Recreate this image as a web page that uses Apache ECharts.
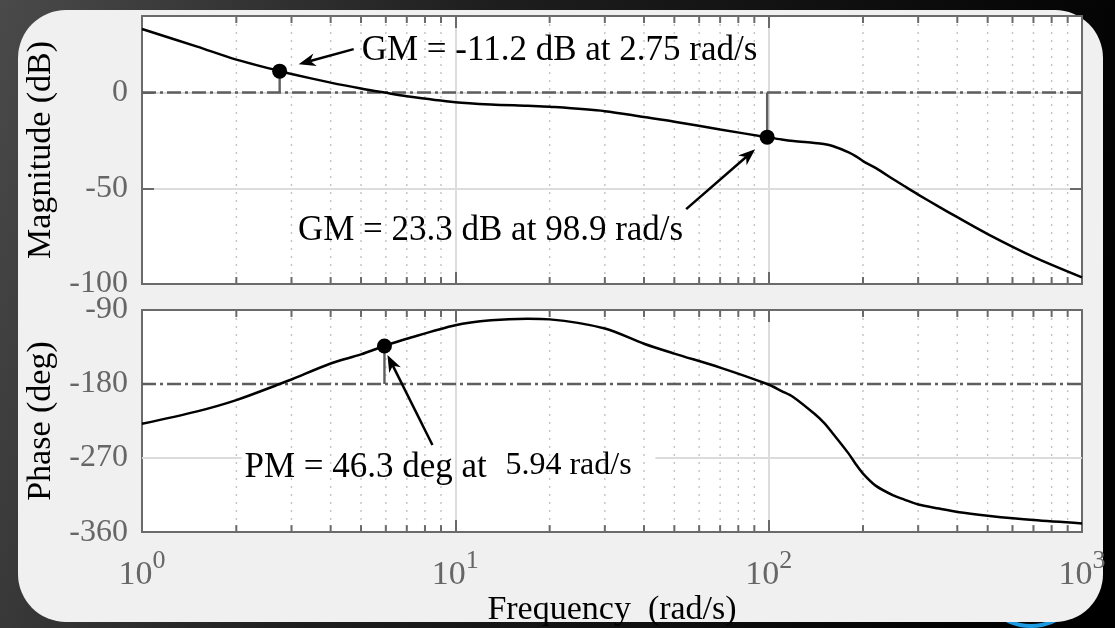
<!DOCTYPE html>
<html>
<head>
<meta charset="utf-8">
<script src="https://cdn.jsdelivr.net/npm/echarts@6/dist/echarts.min.js"></script>
<style>
  html, body { margin: 0; padding: 0; background: #000; }
  #chart { width: 1115px; height: 628px; }
</style>
</head>
<body>
<div id="chart"></div>
<script>
// Open-loop frequency response (rad/s, dB, deg)
const freq = [1, 1.5, 2, 2.75, 3, 4, 5, 5.94, 7, 10, 13, 17, 20, 30, 40, 50, 70, 98.9,
              110, 120, 140, 150, 160, 180, 190, 200, 220, 250, 270, 300, 350, 400, 500, 700, 1000];
const magDb = [33.2, 24.0, 17.2, 11.2, 9.7, 5.2, 2.1, 0, -1.9, -5.0, -6.2, -6.9, -7.4, -9.7,
               -12.8, -15.2, -19.3, -23.3,
               -24.5, -25.3, -26.3, -26.9, -27.9, -31.2, -33.3, -35.8, -39.5, -45.3, -48.7, -53.3,
               -59.7, -65.1, -73.9, -85.8, -96.5];
const phaseDeg = [-228.4, -213.2, -199.5, -180, -174.5, -155, -144, -133.7, -125, -108.5, -102.6, -100.7,
                  -101.4, -112.5, -131, -143, -160, -180,
                  -188.6, -196, -216.2, -227, -239.8, -264.6, -277.8, -288.8, -303.8, -315.4, -320.2,
                  -326.5, -331.4, -335.5, -340, -345.4, -349.4];

// Axis ticks
const decades = [1, 10, 100, 1000];
const decadeExp = [0, 1, 2, 3];
const minorFreqs = [2, 3, 4, 5, 6, 7, 8, 9, 20, 30, 40, 50, 60, 70, 80, 90,
                    200, 300, 400, 500, 600, 700, 800, 900];
const magTicks = [-100, -50, 0];
const phaseTicks = [-360, -270, -180, -90];

// Stability margins
const gmValues = [-11.2, 23.3];
const gmFreqs = [2.75, 98.9];
const pmValue = 46.3;
const pmFreq = 5.94;

// Span of the -270 deg grid line that is left out behind the PM note
const phaseGridGap = [2.08, 43.5];

const SERIF = '"Liberation Serif", "Times New Roman", serif';
const AXIS = '#6a6a6a';
const LABEL = '#666666';
const GRID = '#dcdcdc';
const MINOR = '#c6c6c6';
const REF = '#5e5e5e';
const DASHDOT = [14, 4, 3, 4];

const chart = echarts.init(document.getElementById('chart'), null, { renderer: 'canvas' });

function xAxisFor(gridIndex, position, withLabels) {
  const ax = {
    type: 'log', logBase: 10, min: 1, max: 1000, gridIndex, position,
    axisLine: { show: true, onZero: false, lineStyle: { color: AXIS, width: 2 } },
    axisTick: { show: true, inside: true, length: 12, lineStyle: { color: AXIS, width: 2 } },
    axisLabel: { show: false },
    splitLine: { show: false },
    minorTick: { show: false }
  };
  if (position === 'bottom') {
    ax.splitLine = { show: true, showMinLine: false, showMaxLine: false,
                     lineStyle: { color: GRID, width: 2 } };
  }
  if (withLabels) {
    ax.axisLabel = {
      show: true, margin: 16, interval: 0, showMinLabel: true, showMaxLabel: true,
      formatter: v => {
        const i = decades.findIndex(d => Math.abs(d - v) < 1e-6 * d);
        return '{b|10}{s|' + decadeExp[i] + '}';
      },
      rich: {
        b: { fontSize: 34, fontFamily: SERIF, color: LABEL, verticalAlign: 'bottom', padding: [10, 0, 0, 0] },
        s: { fontSize: 26, fontFamily: SERIF, color: LABEL, verticalAlign: 'top' }
      }
    };
    ax.name = 'Frequency  (rad/s)';
    ax.nameLocation = 'middle';
    ax.nameGap = 43;
    ax.nameTextStyle = { fontSize: 34, fontFamily: SERIF, color: '#000' };
  }
  return ax;
}

function yAxisFor(gridIndex, position, min, max, interval, ticks, name, splitOn) {
  const ax = {
    type: 'value', gridIndex, position, min, max, interval,
    axisLine: { show: true, onZero: false, lineStyle: { color: AXIS, width: 2 } },
    axisTick: { show: true, inside: true, length: 12, lineStyle: { color: AXIS, width: 2 } },
    axisLabel: { show: false },
    splitLine: { show: false }
  };
  if (position === 'left') {
    ax.splitLine = { show: splitOn, showMinLine: false, showMaxLine: false,
                     lineStyle: { color: GRID, width: 2 } };
    ax.axisLabel = {
      show: true, margin: 14, fontSize: 32, fontFamily: SERIF, color: LABEL,
      formatter: v => (ticks.indexOf(v) >= 0 ? String(v) : '')
    };
    ax.name = name;
    ax.nameLocation = 'middle';
    ax.nameRotate = 90;
    ax.nameGap = 84;
    ax.nameTextStyle = { fontSize: 34, fontFamily: SERIF, color: '#000' };
  }
  return ax;
}

// Dotted minor grid with short inside ticks along top and bottom edges
function minorGridSeries(xi, yi, yRef) {
  return {
    type: 'custom', xAxisIndex: xi, yAxisIndex: yi, silent: true, z: 1,
    data: minorFreqs.map(f => [f, yRef]),
    renderItem: (params, api) => {
      const x = api.coord([api.value(0), api.value(1)])[0];
      const cs = params.coordSys;
      const top = cs.y, bottom = cs.y + cs.height;
      return {
        type: 'group',
        children: [
          { type: 'line', shape: { x1: x, y1: top, x2: x, y2: bottom },
            style: { stroke: MINOR, lineWidth: 1.5, lineDash: [2, 6] } },
          { type: 'line', shape: { x1: x, y1: top, x2: x, y2: top + 7 },
            style: { stroke: AXIS, lineWidth: 2 } },
          { type: 'line', shape: { x1: x, y1: bottom, x2: x, y2: bottom - 7 },
            style: { stroke: AXIS, lineWidth: 2 } }
        ]
      };
    }
  };
}

// Straight segments given as [x0, y0, x1, y1] in data units
function segmentSeries(xi, yi, z, style, segments) {
  return {
    type: 'custom', xAxisIndex: xi, yAxisIndex: yi, silent: true, z, clip: false,
    encode: { x: [0, 2], y: [1, 3] },
    data: segments,
    renderItem: (params, api) => {
      const a = api.coord([api.value(0), api.value(1)]);
      const b = api.coord([api.value(2), api.value(3)]);
      return { type: 'line', shape: { x1: a[0], y1: a[1], x2: b[0], y2: b[1] }, style };
    }
  };
}

const magPoints = freq.map((f, i) => [f, magDb[i]]);
const phasePoints = freq.map((f, i) => [f, phaseDeg[i]]);
const gmPoints = gmFreqs.map((w, i) => [w, -gmValues[i]]);
const pmPoint = [pmFreq, pmValue - 180];

const refStyle = { stroke: REF, lineWidth: 2.6, lineDash: DASHDOT };
const stemStyle = { stroke: REF, lineWidth: 2.4 };
const gridStyle = { stroke: GRID, lineWidth: 2 };

const option = {
  animation: false,
  backgroundColor: 'transparent',
  grid: [
    { left: 142, width: 940, top: 16, height: 268, show: true, backgroundColor: '#ffffff', borderWidth: 0 },
    { left: 142, width: 940, top: 310, height: 236, show: true, backgroundColor: '#ffffff', borderWidth: 0 }
  ],
  xAxis: [
    xAxisFor(0, 'bottom', false),
    xAxisFor(0, 'top', false),
    xAxisFor(1, 'bottom', true),
    xAxisFor(1, 'top', false)
  ],
  yAxis: [
    yAxisFor(0, 'left', -100, 40, 50, magTicks, 'Magnitude (dB)', true),
    yAxisFor(0, 'right', -100, 40, 50, magTicks, '', false),
    yAxisFor(1, 'left', -360, -90, 90, phaseTicks, 'Phase (deg)', false),
    yAxisFor(1, 'right', -360, -90, 90, phaseTicks, '', false)
  ],
  series: [
    minorGridSeries(0, 0, 0),
    minorGridSeries(2, 2, -180),
    segmentSeries(2, 2, 2, gridStyle, [
      [1, -270, phaseGridGap[0], -270],
      [phaseGridGap[1], -270, 1000, -270]
    ]),
    segmentSeries(0, 0, 3, refStyle, [[1, 0, 1000, 0]]),
    segmentSeries(2, 2, 3, refStyle, [[1, -180, 1000, -180]]),
    segmentSeries(0, 0, 3, stemStyle, gmPoints.map(p => [p[0], 0, p[0], p[1]])),
    segmentSeries(2, 2, 3, stemStyle, [[pmFreq, -180, pmPoint[0], pmPoint[1]]]),
    {
      name: 'Magnitude', type: 'line', xAxisIndex: 0, yAxisIndex: 0, data: magPoints,
      showSymbol: false, smooth: 0.3, z: 5,
      lineStyle: { color: '#000', width: 2.5 }
    },
    {
      name: 'Phase', type: 'line', xAxisIndex: 2, yAxisIndex: 2, data: phasePoints,
      showSymbol: false, smooth: 0.3, z: 5,
      lineStyle: { color: '#000', width: 2.5 }
    },
    {
      type: 'scatter', xAxisIndex: 0, yAxisIndex: 0, data: gmPoints, symbolSize: 15, z: 6,
      itemStyle: { color: '#000', opacity: 1 }, silent: true
    },
    {
      type: 'scatter', xAxisIndex: 2, yAxisIndex: 2, data: [pmPoint], symbolSize: 15, z: 6,
      itemStyle: { color: '#000', opacity: 1 }, silent: true
    }
  ]
};

chart.setOption(option);

// Backdrop, panel and margin notes
function arrow(tail, tip) {
  const dx = tip[0] - tail[0], dy = tip[1] - tail[1];
  const len = Math.hypot(dx, dy);
  const ux = dx / len, uy = dy / len, nx = -uy, ny = ux;
  const headLen = 17, half = 6.5, notch = 12;
  const base = [tip[0] - ux * notch, tip[1] - uy * notch];
  return [
    { type: 'line', z: 100, silent: true,
      shape: { x1: tail[0], y1: tail[1], x2: base[0], y2: base[1] },
      style: { stroke: '#000', lineWidth: 2.5 } },
    { type: 'polygon', z: 100, silent: true,
      shape: { points: [
        tip,
        [tip[0] - ux * headLen + nx * half, tip[1] - uy * headLen + ny * half],
        base,
        [tip[0] - ux * headLen - nx * half, tip[1] - uy * headLen - ny * half]
      ] },
      style: { fill: '#000' } }
  ];
}

function note(text, x, y, align, size) {
  return {
    type: 'text', z: 100, silent: true, x, y,
    style: { text, font: size + 'px ' + SERIF, fill: '#000',
             align, verticalAlign: 'middle', textAlign: align, textVerticalAlign: 'middle' }
  };
}

const toMag = p => chart.convertToPixel({ xAxisIndex: 0, yAxisIndex: 0 }, p);
const toPhase = p => chart.convertToPixel({ xAxisIndex: 2, yAxisIndex: 2 }, p);
const m1 = toMag(gmPoints[0]);
const m2 = toMag(gmPoints[1]);
const m3 = toPhase(pmPoint);
const add = (p, dx, dy) => [p[0] + dx, p[1] + dy];

const elements = [
  { type: 'rect', z: -100, silent: true, shape: { x: 0, y: 0, width: 1115, height: 628 },
    style: { fill: new echarts.graphic.LinearGradient(0, 0, 1, 0.55, [
      { offset: 0, color: '#4a4a4a' }, { offset: 0.4, color: '#1e1e1e' }, { offset: 1, color: '#000000' }
    ]) } },
  { type: 'circle', z: -99, silent: true, shape: { cx: 1031, cy: 572, r: 54 },
    style: { fill: 'none', stroke: '#1e9be0', lineWidth: 4 } },
  { type: 'rect', z: -98, silent: true, shape: { x: 18, y: 10, width: 1085, height: 612, r: 48 },
    style: { fill: '#f0f0f0' } },
  ...arrow(add(m1, 74, -22), add(m1, 19, -7)),
  ...arrow(add(m2, -81, 72), add(m2, -12, 12)),
  ...arrow(add(m3, 48, 99), add(m3, 3, 9)),
  note('GM = ' + gmValues[0] + ' dB at ' + gmFreqs[0] + ' rad/s', m1[0] + 82, m1[1] - 20, 'left', 35),
  note('GM = ' + gmValues[1] + ' dB at ' + gmFreqs[1] + ' rad/s', m2[0] - 84, m2[1] + 94, 'right', 35),
  note('PM = ' + pmValue + ' deg at', m3[0] - 140, m3[1] + 122, 'left', 35),
  note(pmFreq + ' rad/s', m3[0] + 121, m3[1] + 120, 'left', 32)
];

chart.setOption({ graphic: { elements } });
</script>
</body>
</html>
